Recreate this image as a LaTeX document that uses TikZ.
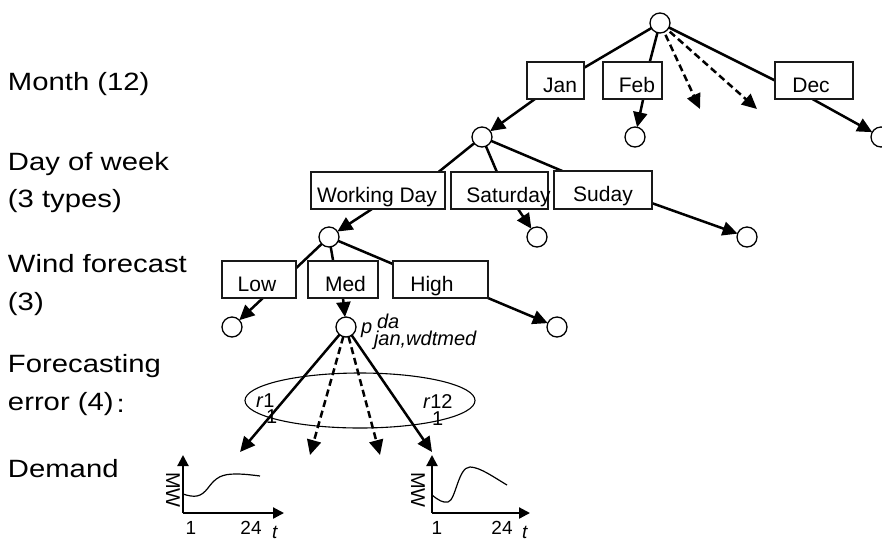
\documentclass[tikz,border=0pt]{standalone}
\usepackage{fontspec}
\setmainfont{Liberation Sans}
\newfontfamily\wide{Liberation Sans}[FakeStretch=1.17]
\usetikzlibrary{arrows.meta,shapes.geometric,calc,backgrounds}
\newcommand\bt[2]{\makebox[0pt]{\hspace*{#1pt}\raisebox{-11.5pt}[0pt][0pt]{#2}}}
\begin{document}
\begin{tikzpicture}[x=1pt,y=-1pt,
  every node/.style={inner sep=0pt, outer sep=0pt},
  lab/.style={anchor=base west, font=\wide\fontsize{25}{30}\selectfont},
  bx/.style={draw=black!90, line width=2.6pt, fill=white, minimum height=37pt,
             font=\fontsize{21}{25}\selectfont},
  st/.style={circle, draw, line width=1.3pt, minimum size=20pt, fill=white},
  edge/.style={line width=2.5pt},
  arr/.style={line width=2.5pt, -{Triangle[length=15pt,width=14pt]}},
  darr/.style={arr, dash pattern=on 7pt off 4pt},
  axarr/.style={line width=2.2pt, -{Triangle[length=11pt,width=11pt]}},
  curve/.style={line width=1.2pt},
  plab/.style={anchor=base west, font=\fontsize{20}{22}\selectfont},
  rlab/.style={anchor=base west, font=\fontsize{20}{22}\selectfont},
  glab/.style={anchor=base, font=\fontsize{19}{21}\selectfont},
  mw/.style={rotate=-90, font=\fontsize{20}{20}\selectfont}]
\useasboundingbox (0,0) rectangle (882,539);

% level labels
\node[lab] (l1) at (8,90) {Month (12)};
\node[lab] (l2a) at (8,170) {Day of week};
\node[lab] (l2b) at (8,207) {(3 types)};
\node[lab] (l3a) at (8,272) {Wind forecast};
\node[lab] (l3b) at (8,310) {(3)};
\node[lab] (l4a) at (8,372) {Forecasting};
\node[lab] (l4b) at (8,410) {error (4)\hspace{3pt}\raisebox{-2pt}{:}};
\node[lab] (l5) at (8,477) {Demand};

% month level
\node[st] (root) at (660,23) {};
\node[bx, minimum width=57pt] (jan) at (555.5,80.5) {\bt{9}{Jan}};
\node[bx, minimum width=59pt] (feb) at (632.5,80.5) {\bt{9}{Feb}};
\node[bx, minimum width=78pt] (dec) at (814,80.5) {\bt{-6}{Dec}};
\coordinate (d1) at (700,109);
\coordinate (d2) at (757,109);
\node[st] (dow) at (482,137) {};
\node[st] (febc) at (635,137) {};
\node[st] (decc) at (881,137) {};

% day-of-week level
\node[bx, minimum width=134pt] (wd) at (378,190.5) {\bt{-2}{Working Day}};
\node[bx, minimum width=97pt] (sat) at (499.5,190.5) {\bt{18}{Saturday}};
\node[bx, minimum width=98pt, minimum height=38pt] (sun) at (603,190) {\bt{0}{Suday}};
\node[st] (wind) at (329,237) {};
\node[st] (satc) at (537,237) {};
\node[st] (sunc) at (747,237) {};

% wind level
\node[bx, minimum width=74pt] (low) at (259,279.5) {\bt{-4}{Low}};
\node[bx, minimum width=70pt] (med) at (343,279.5) {\bt{5}{Med}};
\node[bx, minimum width=95pt] (high) at (440.5,279.5) {\bt{-17}{High}};
\node[st] (lowc) at (232,327) {};
\node[st] (medc) at (346,327) {};
\node[st] (highc) at (557,327) {};

% probability label
\node[plab] (pp) at (361,333) {\textit{p}};
\node[plab] (pda) at (377,328) {\textit{da}};
\node[plab] (psub) at (374,345) {\textit{jan,wdtmed}};

% forecasting error
\node[draw, ellipse, line width=1.1pt, minimum width=230pt, minimum height=55pt] (err) at (360,400.5) {};
\node[rlab] (ra) at (256,407) {\textit{r}1};
\node[rlab] (rb) at (266,423) {1};
\node[rlab] (rc) at (423,408) {\textit{r}12};
\node[rlab] (rd) at (432,425) {1};
\coordinate (e1) at (240,452);
\coordinate (e2) at (310,455);
\coordinate (e3) at (380,455);
\coordinate (e4) at (432,452);

% demand graphs
\coordinate (o1) at (183,513);
\coordinate (y1) at (183,455);
\coordinate (x1) at (284,513);
\coordinate (o2) at (432,513);
\coordinate (y2) at (432,455);
\coordinate (x2) at (530,513);
\node[mw] (mw1) at (173,490) {MW};
\node[mw] (mw2) at (418,490) {MW};
\node[glab] (a1) at (191,534) {1};
\node[glab] (b1) at (251,534) {24};
\node[glab] (t1) at (275,538) {\textit{t}};
\node[glab] (a2) at (437,534) {1};
\node[glab] (b2) at (502,534) {24};
\node[glab] (t2) at (525,538) {\textit{t}};

\begin{scope}[on background layer]
  \draw[edge] (root) -- (jan.24);
  \draw[edge] (root) -- (feb.47);
  \draw[edge] (root) -- (dec.west);
  \draw[darr, shorten <=3pt] (root) -- (d1);
  \draw[darr, shorten <=3pt] (root) -- (d2);
  \draw[arr] (jan.222) -- (dow);
  \draw[arr] (feb.300) -- (febc);
  \draw[arr] (dec.265) -- (decc);

  \draw[edge] (dow) -- (wd.17);
  \draw[edge] (dow) -- (sat.98);
  \draw[edge] (dow) -- (sun.155);
  \draw[arr] (wd.252) -- (wind);
  \draw[arr] (sat.315) -- (satc);
  \draw[arr] (sun.345) -- (sunc);

  \draw[edge] (wind) -- (low.17);
  \draw[edge] (wind) -- (med.118);
  \draw[edge] (wind) -- (high.162);
  \draw[arr] (low.282) -- (lowc);
  \draw[arr] (med.270) -- (medc);
  \draw[arr] (high.south east) -- (highc);

  \draw[arr] (medc) -- (e1);
  \draw[darr] (medc) -- (e2);
  \draw[darr] (medc) -- (e3);
  \draw[arr] (medc) -- (e4);

  \draw[axarr] (o1) -- (y1);
  \draw[axarr] (o1) -- (x1);
  \draw[axarr] (o2) -- (y2);
  \draw[axarr] (o2) -- (x2);
  \draw[curve] (183,494) .. controls (195,498) and (201,497) .. (208,488)
     .. controls (216,477) and (222,474) .. (236,474)
     .. controls (245,474) and (252,475) .. (260,476);
  \draw[curve] (432,495) .. controls (438,500) and (443,503) .. (448,502)
     .. controls (456,500) and (458,467) .. (470,467)
     .. controls (480,467) and (495,478) .. (507,485);
\end{scope}
\end{tikzpicture}
\end{document}
